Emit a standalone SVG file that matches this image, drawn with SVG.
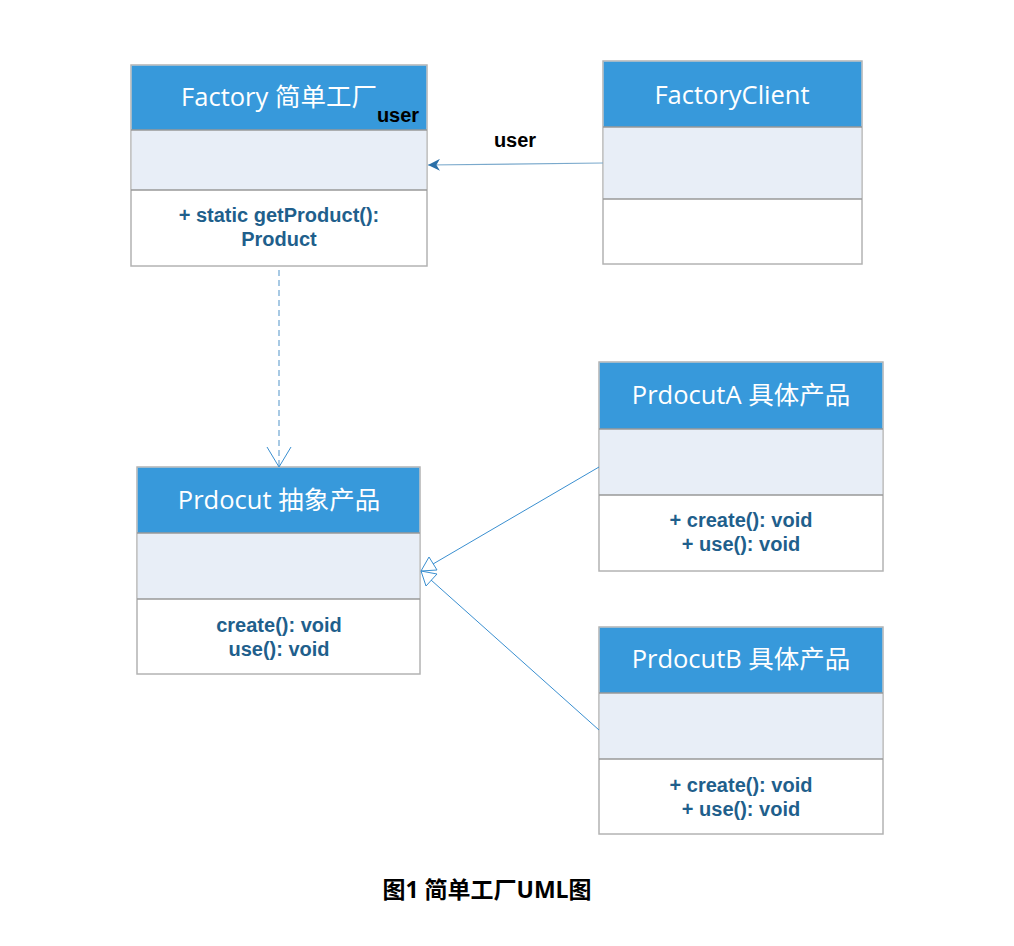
<svg xmlns="http://www.w3.org/2000/svg" width="1014" height="946" viewBox="0 0 1014 946">
<style>
.box{fill:#ffffff;stroke:#b3b3b3;stroke-width:1.5}
.hdr{fill:#3799db}
.attr{fill:#e8eef7}
.sep{stroke:#999999;stroke-width:1.5}
.title{font-family:"Open Sans","Noto Sans CJK SC",sans-serif;font-size:25.5px;fill:#ffffff;text-anchor:middle}
.meth{font-family:"Liberation Sans","Noto Sans CJK SC",sans-serif;font-size:20px;font-weight:700;fill:#1f5f8c;text-anchor:middle}
.lbl{font-family:"Liberation Sans","Noto Sans CJK SC",sans-serif;font-size:20px;font-weight:700;fill:#000000;text-anchor:middle}
.cap{font-family:"Open Sans","Noto Sans CJK SC",sans-serif;font-size:23px;font-weight:700;fill:#000000;text-anchor:middle}
.conn{fill:none;stroke:#3a8fd0;stroke-width:1}
</style>
<defs>
<marker id="filled" viewBox="0 0 10 10" refX="10" refY="5" markerWidth="12" markerHeight="12" markerUnits="userSpaceOnUse" orient="auto">
<path d="M0,0 L10,5 L0,10 L3,5 Z" fill="#2a6fa8"/>
</marker>
</defs>
<rect width="1014" height="946" fill="#ffffff"/>

<g id="factory">
<rect class="box" x="131" y="65" width="296" height="201"/>
<rect class="hdr" x="131.75" y="65.75" width="294.5" height="64.25"/>
<rect class="attr" x="131.75" y="130" width="294.5" height="60"/>
<line class="sep" x1="131" y1="130" x2="427" y2="130"/>
<line class="sep" x1="131" y1="190" x2="427" y2="190"/>
<text class="title" x="279" y="106">Factory 简单工厂</text>
<text class="lbl" x="398" y="122">user</text>
<text class="meth" x="279" y="222">+ static getProduct():</text>
<text class="meth" x="279" y="246">Product</text>
</g>

<g id="factoryclient">
<rect class="box" x="603" y="61" width="259" height="203"/>
<rect class="hdr" x="603.75" y="61.75" width="257.5" height="65.25"/>
<rect class="attr" x="603.75" y="127" width="257.5" height="72"/>
<line class="sep" x1="603" y1="127" x2="862" y2="127"/>
<line class="sep" x1="603" y1="199" x2="862" y2="199"/>
<text class="title" x="732" y="104">FactoryClient</text>
</g>

<g id="product">
<rect class="box" x="137" y="467" width="283" height="207"/>
<rect class="hdr" x="137.75" y="467.75" width="281.5" height="65.25"/>
<rect class="attr" x="137.75" y="533" width="281.5" height="66"/>
<line class="sep" x1="137" y1="533" x2="420" y2="533"/>
<line class="sep" x1="137" y1="599" x2="420" y2="599"/>
<text class="title" x="279" y="509">Prdocut 抽象产品</text>
<text class="meth" x="279" y="632">create(): void</text>
<text class="meth" x="279" y="656">use(): void</text>
</g>

<g id="productA">
<rect class="box" x="599" y="362" width="284" height="209"/>
<rect class="hdr" x="599.75" y="362.75" width="282.5" height="66.25"/>
<rect class="attr" x="599.75" y="429" width="282.5" height="66"/>
<line class="sep" x1="599" y1="429" x2="883" y2="429"/>
<line class="sep" x1="599" y1="495" x2="883" y2="495"/>
<text class="title" x="741" y="404">PrdocutA 具体产品</text>
<text class="meth" x="741" y="527">+ create(): void</text>
<text class="meth" x="741" y="551">+ use(): void</text>
</g>

<g id="productB">
<rect class="box" x="599" y="627" width="284" height="207"/>
<rect class="hdr" x="599.75" y="627.75" width="282.5" height="65.25"/>
<rect class="attr" x="599.75" y="693" width="282.5" height="66"/>
<line class="sep" x1="599" y1="693" x2="883" y2="693"/>
<line class="sep" x1="599" y1="759" x2="883" y2="759"/>
<text class="title" x="741" y="668">PrdocutB 具体产品</text>
<text class="meth" x="741" y="792">+ create(): void</text>
<text class="meth" x="741" y="816">+ use(): void</text>
</g>

<g id="connectors">
<line x1="603" y1="163" x2="428" y2="165" stroke="#7aa9cc" stroke-width="1.2" marker-end="url(#filled)"/>
<text class="lbl" x="515" y="147">user</text>
<line x1="279" y1="270" x2="279" y2="466" stroke="#8ab8dc" stroke-width="1.5" stroke-dasharray="6,4"/>
<path class="conn" d="M267,447 L279,467 L291,447"/>
<line class="conn" x1="599" y1="467" x2="433" y2="564"/>
<path class="conn" d="M421,571 L429,557 L437,570 Z"/>
<line class="conn" x1="599" y1="730" x2="431" y2="580"/>
<path class="conn" d="M421,571 L437,574 L426,586 Z"/>
</g>

<g id="caption">
<text class="cap" x="487" y="898">图1 简单工厂UML图</text>
</g>
</svg>
